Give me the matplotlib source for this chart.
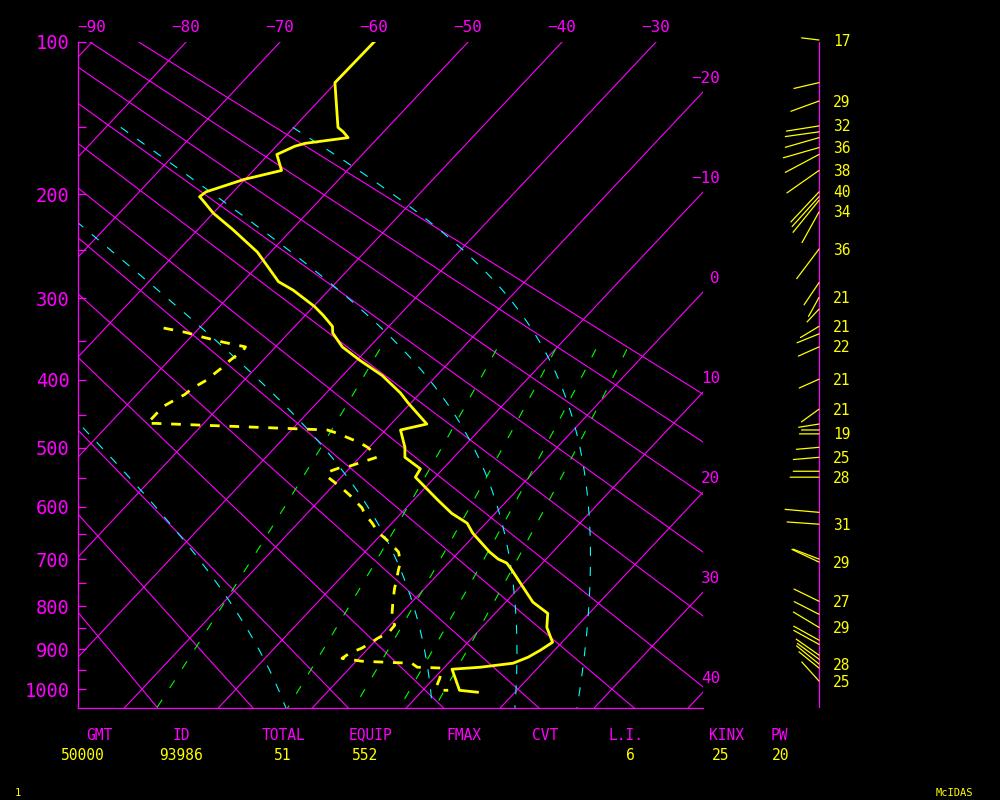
import numpy as np
import matplotlib
matplotlib.use('Agg')
import matplotlib.pyplot as plt
from matplotlib.ticker import FixedLocator, NullFormatter

plt.rcParams['lines.scale_dashes'] = False
plt.rcParams['font.family'] = ['DejaVu Sans Mono', 'DejaVu Sans']

MAGENTA = '#ff00ff'
YELLOW = '#ffff00'
CYAN = '#00ffff'
GREEN = '#00ff00'

# sounding, temperature (hPa, degC)
temp_p = [100, 122, 150, 153, 157, 161, 163, 169, 181, 188, 198, 202, 205, 216, 231, 252,
          282, 291, 309, 319, 332, 340, 357, 374, 394, 418, 432, 463, 472, 499, 515, 534,
          548, 588, 612, 630, 649, 686, 700, 708, 723, 754, 791, 816, 848, 883, 902, 919,
          934, 944, 949, 1003, 1008]
temp_c = [-60.0, -60.1, -55.3, -54.3, -53.2, -57.2, -58.0, -59.1, -57.0, -60.1, -62.9, -63.1,
          -62.4, -60.0, -56.2, -51.4, -46.2, -43.8, -39.9, -38.1, -36.0, -35.3, -32.9, -29.7,
          -25.8, -22.1, -20.3, -16.2, -18.4, -16.2, -15.2, -12.4, -12.1, -7.4, -4.6, -2.0,
          -0.4, 3.3, 4.9, 6.2, 7.5, 10.0, 12.9, 15.6, 16.9, 19.0, 18.5, 17.9, 16.9, 13.8,
          11.0, 13.9, 16.0]

# dewpoint (hPa, degC)
dewp_p = [334, 339, 345, 351, 357, 361, 374, 383, 394, 400, 411, 420, 429, 437, 450, 462,
          462, 472, 477, 492, 500, 515, 520, 531, 533, 540, 548, 567, 579, 602, 612, 630,
          647, 668, 686, 706, 723, 744, 761, 791, 825, 843, 862, 873, 885, 897, 909, 922,
          929, 932, 934, 944, 946, 972, 990, 1003, 1003]
dewp_c = [-53.8, -51.1, -48.7, -46.1, -43.2, -43.1, -43.5, -43.6, -43.9, -44.0, -44.7, -44.9,
          -45.5, -46.0, -46.0, -46.0, -45.2, -26.2, -24.8, -21.4, -20.0, -18.2, -18.9, -20.4,
          -21.2, -22.0, -21.4, -18.8, -17.3, -14.7, -13.9, -12.1, -10.6, -8.2, -6.4, -5.2,
          -4.6, -3.8, -3.2, -2.0, -0.6, 0.5, 0.6, 0.0, -0.3, -0.7, -1.5, -1.8, 0.6, 3.7,
          6.1, 7.1, 9.8, 10.6, 11.0, 11.8, 12.7]

# winds (hPa, deg, speed)
wind_p = [99, 122, 133, 149, 153, 157, 164, 169, 181, 198, 202, 205, 215, 249, 283, 299,
          312, 332, 341, 357, 399, 441, 463, 472, 478, 499, 515, 538, 548, 610, 632, 706,
          700, 789, 818, 848, 878, 888, 914, 924, 936, 946, 979]
wind_dir = [277, 257, 250, 261, 262, 254, 254, 242, 235, 223, 222, 219, 209, 217, 214, 209,
            223, 239, 248, 246, 246, 234, 261, 270, 270, 265, 265, 270, 270, 275, 274, 295,
            291, 296, 297, 301, 299, 299, 305, 306, 309, 309, 318]
wind_spd = [17, 25, 29, 32, 33, 34, 36, 37, 38, 40, 39, 40, 34, 36, 26, 21,
            17, 21, 23, 22, 21, 21, 20, 17, 19, 22, 25, 25, 28, 33, 31, 29,
            27, 27, 27, 29, 28, 28, 27, 26, 28, 25, 25]
wind_labeled = [0, 2, 3, 6, 8, 9, 12, 13, 15, 17, 19, 20, 21, 24, 26, 28, 30, 31, 33, 35, 40, 42]

# background lines
isotherms = list(range(-90, 41, 10))
dry_theta = list(range(-20, 91, 10))
moist_thetaw = [-5.5, 10.7, 19.8, 26.6]
mix_ratio = [1, 3, 5, 7, 9]

index_names = ['GMT', 'ID', 'TOTAL', 'EQUIP', 'FMAX', 'CVT', 'L.I.', 'KINX', 'PW']
index_values = ['50000', '93986', '51', '552', '', '', '6', '25', '20']

KAPPA = 0.2857
P_TOP, P_BOT = 100, 1050
SKEW = 18.65
X_LEFT, X_RIGHT = -91.5, -25.0


def skew(t, p):
    return np.asarray(t, float) - SKEW * (np.asarray(p, float) ** KAPPA - P_TOP ** KAPPA)


def sat_mixr(t, p):
    es = 6.112 * np.exp(17.67 * t / (t + 243.5))
    return 0.622 * es / (p - es)


def moist_lapse(tw, p_end, step):
    # integrate pseudo-adiabat from 1000 hPa
    Rd, cp, Lv = 287.04, 1005.7, 2.501e6
    def dtdp(p, tk):
        rs = sat_mixr(tk - 273.15, p)
        return (Rd * tk + Lv * rs) / (p * (cp + Lv ** 2 * rs * 0.622 / (Rd * tk ** 2)))
    ps = np.arange(1000, p_end, step)
    ts = [tw + 273.15]
    for p in ps[:-1]:
        k1 = dtdp(p, ts[-1])
        k2 = dtdp(p + step, ts[-1] + k1 * step)
        ts.append(ts[-1] + 0.5 * (k1 + k2) * step)
    return ps, np.array(ts) - 273.15


fig = plt.figure(figsize=(10, 8), dpi=100, facecolor='black')
ax = fig.add_axes([0.078, 0.115, 0.625, 0.8325])
ax.set_facecolor('black')
fwd = lambda p: np.power(np.maximum(p, 1e-6), KAPPA)
inv = lambda s: np.power(np.maximum(s, 1e-6), 1 / KAPPA)
ax.set_yscale('function', functions=(fwd, inv))
ax.set_ylim(P_BOT, P_TOP)
ax.set_xlim(X_LEFT, X_RIGHT)

pp = np.linspace(P_TOP, P_BOT, 60)
for t in isotherms:
    ax.plot(skew([t, t], [P_TOP, P_BOT]), [P_TOP, P_BOT], color=MAGENTA, lw=0.8)
for th in dry_theta:
    tt = (th + 273.15) * (pp / 1000.0) ** KAPPA - 273.15
    ax.plot(skew(tt, pp), pp, color=MAGENTA, lw=0.8)

for w in mix_ratio:
    pw = np.linspace(360, P_BOT, 40)
    e = w * pw / (622.0 + w)
    lg = np.log(e / 6.112)
    tw = 243.5 * lg / (17.67 - lg)
    ax.plot(skew(tw, pw), pw, color=GREEN, lw=0.8, dashes=(6.5, 10))

for tw in moist_thetaw:
    pu, tu = moist_lapse(tw, 149, -2.0)
    pd, td = moist_lapse(tw, 1051, 2.0)
    pm = np.concatenate([pu[::-1], pd[1:]])
    tm = np.concatenate([tu[::-1], td[1:]])
    ax.plot(skew(tm, pm), pm, color=CYAN, lw=0.8, dashes=(6.5, 8))

ax.plot(skew(dewp_c, dewp_p), dewp_p, color=YELLOW, lw=2, dashes=(7, 7))
ax.plot(skew(temp_c, temp_p), temp_p, color=YELLOW, lw=2)

for sp in ['top', 'right']:
    ax.spines[sp].set_visible(False)
for sp in ['left', 'bottom']:
    ax.spines[sp].set_color(MAGENTA)
    ax.spines[sp].set_linewidth(0.9)
ax.set_xticks([])
ax.yaxis.set_major_locator(FixedLocator(list(range(100, 1001, 100))))
ax.yaxis.set_minor_locator(FixedLocator(list(range(150, 1000, 100))))
ax.yaxis.set_minor_formatter(NullFormatter())
ax.set_yticklabels([str(v) for v in range(100, 1001, 100)])
ax.tick_params(axis='y', which='both', direction='in', length=6, width=0.9,
               color=MAGENTA, labelcolor=MAGENTA, labelsize=13.5, pad=6)

for t in isotherms:
    if t <= -30:
        ax.annotate('\u2212%d' % -t, xy=(skew(t, P_TOP), P_TOP), xytext=(0, 14),
                    textcoords='offset pixels', ha='center', va='center',
                    color=MAGENTA, fontsize=11.5, annotation_clip=False)
    else:
        pr = (P_TOP ** KAPPA + (t - X_RIGHT) / SKEW) ** (1 / KAPPA)
        lab = str(t) if t >= 0 else '\u2212%d' % -t
        ax.annotate(lab, xy=(X_RIGHT, pr), xytext=(17, 14),
                    textcoords='offset pixels', ha='right', va='center',
                    color=MAGENTA, fontsize=11.5, annotation_clip=False)

# wind column
axw = fig.add_axes([0.759, 0.115, 0.12, 0.8325])
axw.set_yscale('function', functions=(fwd, inv))
axw.set_ylim(P_BOT, P_TOP)
axw.set_xlim(-60, 60)
axw.axis('off')
axw.plot([0, 0], [P_TOP, P_BOT], color=MAGENTA, lw=0.9)
for i, (p, d, s) in enumerate(zip(wind_p, wind_dir, wind_spd)):
    r = np.radians(d)
    axw.annotate('', xy=(0, p), xytext=(1.03 * s * np.sin(r), 1.03 * s * np.cos(r)),
                 textcoords='offset pixels', annotation_clip=False,
                 arrowprops=dict(arrowstyle='-', color=YELLOW, lw=0.9, shrinkA=0, shrinkB=0))
    if i in wind_labeled:
        axw.annotate(str(s), xy=(0, p), xytext=(14, -1), textcoords='offset pixels',
                     ha='left', va='center', color=YELLOW, fontsize=10.5,
                     annotation_clip=False)

# stability indices
name_x = [99, 181, 284, 371, 464, 545, 626, 726, 779]
value_x = [83, 181, 283, 365, 464, 545, 630, 721, 781]
for n, v, xn, xv in zip(index_names, index_values, name_x, value_x):
    fig.text(xn / 1000, 1 - 735 / 800, n, color=MAGENTA, fontsize=10.5, ha='center', va='center')
    fig.text(xv / 1000, 1 - 755 / 800, v, color=YELLOW, fontsize=10.5, ha='center', va='center')
fig.text(0.018, 1 - 793 / 800, '1', color=YELLOW, fontsize=7.5, ha='center', va='center')
fig.text(0.954, 1 - 793 / 800, 'McIDAS', color=YELLOW, fontsize=7.5, ha='center', va='center')

fig.savefig('out.png', dpi=100, facecolor='black')
